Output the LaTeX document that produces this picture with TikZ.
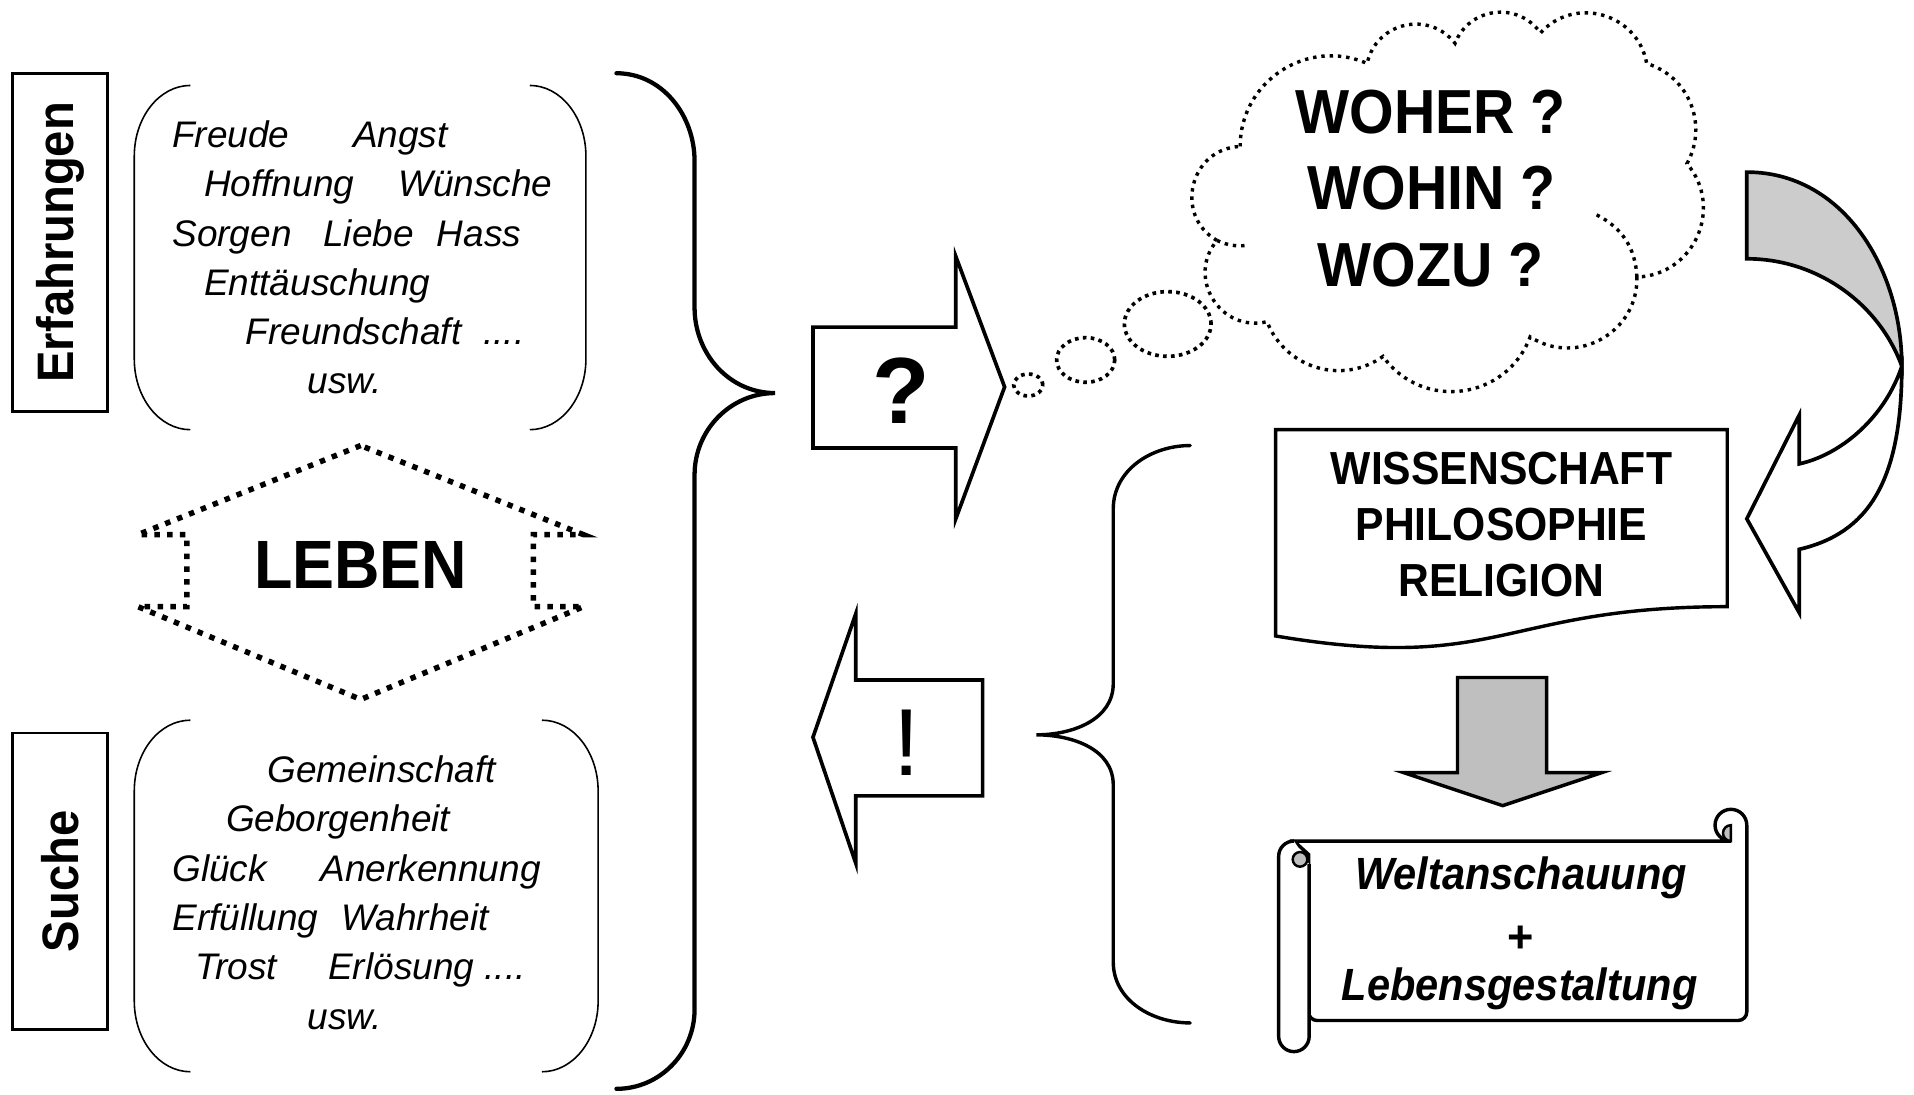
\documentclass[tikz,border=0pt]{standalone}
\usepackage{fontspec}
\setmainfont{Liberation Sans}
\newfontfamily\narrowsans[FakeStretch=0.92]{Liberation Sans}
\usetikzlibrary{shapes.geometric}

\tikzset{
  wordlist/.style={anchor=base west, inner sep=0pt, font=\itshape\fontsize{30.3}{36}\selectfont},
  sidelabel/.style={draw, line width=2.2pt, rotate=90, minimum height=78pt, inner sep=0pt,
                    font=\narrowsans\bfseries\fontsize{42}{48}\selectfont},
  paren/.style={line width=1.3pt},
  bigtitle/.style={anchor=base, inner sep=0pt, font=\narrowsans\bfseries\fontsize{56}{60}\selectfont},
  question/.style={anchor=base, inner sep=0pt, font=\narrowsans\bfseries\fontsize{51}{60}\selectfont},
  science/.style={anchor=base, inner sep=0pt, font=\narrowsans\bfseries\fontsize{38}{44}\selectfont},
  scrolltext/.style={anchor=base, inner sep=0pt, font=\narrowsans\bfseries\itshape\fontsize{37}{44}\selectfont},
  dotline/.style={line width=4.5pt, dash pattern=on 4.5pt off 6pt},
  cloudline/.style={line width=2.8pt, dash pattern=on 2.8pt off 4pt},
  bubble/.style={ellipse, draw, inner sep=0pt, line width=3pt, dash pattern=on 3pt off 3.5pt},
  blockarrow/.style={line width=3pt, line join=miter},
  brace/.style={line width=3.5pt, line cap=round},
  scrollline/.style={line width=2.8pt},
}

\begin{document}
\begin{tikzpicture}[x=1pt, y=1pt]
\useasboundingbox (0,0) rectangle (1568,-897);

\node[sidelabel, minimum width=277pt] (erfahrungen) at (49.25,-198.5) {Erfahrungen};
\node[sidelabel, minimum width=243pt] (suche) at (49.25,-722) {Suche};

\draw[paren] (156,-70) arc[start angle=90, end angle=180, x radius=46pt, y radius=58pt] -- (110,-294) arc[start angle=180, end angle=270, x radius=46pt, y radius=58pt];
\draw[paren] (434,-70) arc[start angle=90, end angle=0, x radius=46pt, y radius=58pt] -- (480,-294) arc[start angle=0, end angle=-90, x radius=46pt, y radius=58pt];
\draw[paren] (156,-590) arc[start angle=90, end angle=180, x radius=46pt, y radius=58pt] -- (110,-820) arc[start angle=180, end angle=270, x radius=46pt, y radius=58pt];
\draw[paren] (444,-590) arc[start angle=90, end angle=0, x radius=46pt, y radius=58pt] -- (490,-820) arc[start angle=0, end angle=-90, x radius=46pt, y radius=58pt];

\node[wordlist] (erf1) at (141,-121) {Freude\hspace{52pt}Angst};
\node[wordlist] (erf2) at (167,-161.3) {Hoffnung\hspace{36pt}Wünsche};
\node[wordlist] (erf3) at (141,-201.6) {Sorgen\hspace{26pt}Liebe\hspace{19pt}Hass};
\node[wordlist] (erf4) at (167,-241.9) {Enttäuschung};
\node[wordlist] (erf5) at (201,-282.2) {Freundschaft\hspace{18pt}....};
\node[wordlist] (erf6) at (252,-322.5) {usw.};

\node[wordlist] (such1) at (219,-641) {Gemeinschaft};
\node[wordlist] (such2) at (185,-681.4) {Geborgenheit};
\node[wordlist] (such3) at (141,-721.8) {Glück\hspace{44pt}Anerkennung};
\node[wordlist] (such4) at (141,-762.2) {Erfüllung\hspace{19pt}Wahrheit};
\node[wordlist] (such5) at (160,-802.6) {Trost\hspace{42pt}Erlösung ....};
\node[wordlist] (such6) at (252,-843) {usw.};

\draw[dotline] (295.5,-365) -- (113,-438) -- (153,-438) -- (153,-497) -- (113,-497) -- (295.5,-573)
  -- (478,-497) -- (437,-497) -- (437,-438) -- (478,-438) -- cycle;
\node[bigtitle] (leben) at (295.5,-482) {LEBEN};

\draw[brace] (505,-60) to[out=0,in=90] (569,-132) -- (569,-252) to[out=-90,in=180] (635,-322)
  to[out=180,in=90] (569,-389) -- (569,-827) to[out=-90,in=0] (505,-892);

\draw[blockarrow] (666,-268) -- (783,-268) -- (783,-210) -- (823,-317) -- (783,-425) -- (783,-367) -- (666,-367) -- cycle;
\node[anchor=base, inner sep=0pt, font=\bfseries\fontsize{77}{80}\selectfont] (frage) at (738,-347) {?};

\draw[blockarrow] (805,-557) -- (701,-557) -- (701,-503) -- (666,-604) -- (701,-707) -- (701,-652) -- (805,-652) -- cycle;
\node[anchor=base, inner sep=0pt, font=\fontsize{78}{80}\selectfont] (ausruf) at (742.7,-635) {!};

\node[bubble, minimum width=24pt, minimum height=18pt] (bubble1) at (842.4,-315.4) {};
\node[bubble, minimum width=47.6pt, minimum height=36.6pt] (bubble2) at (889.4,-294.9) {};
\node[bubble, minimum width=71pt, minimum height=53pt] (bubble3) at (956.6,-265.4) {};

\draw[cloudline] (1016,-120) to[bend left=57,looseness=1.1] (1120,-52)
  to[bend left=65,looseness=1.2] (1192,-35.5)
  to[bend left=62,looseness=1.16] (1262,-27)
  to[bend left=64,looseness=1.18] (1349,-52)
  to[bend left=51,looseness=1.05] (1382,-134)
  to[bend left=64,looseness=1.19] (1341,-227)
  to[bend left=62,looseness=1.16] (1253.5,-276)
  to[bend left=62,looseness=1.16] (1133,-292)
  to[bend left=52,looseness=1.06] (1038,-263.5)
  to[bend left=72,looseness=1.29] (997,-197)
  to[bend left=74,looseness=1.33] (1016,-120);
\draw[cloudline] (1308,-176) to[bend left=30] (1341,-227);
\draw[cloudline] (997,-197) to[bend right=15] (1022,-201);

\node[question] (woher) at (1172,-109) {WOHER ?};
\node[question] (wohin) at (1173,-172) {WOHIN ?};
\node[question] (wozu) at (1172,-235) {WOZU ?};

\draw[line width=3pt, fill=black!20] (1431,-141) .. controls (1510,-141) and (1558,-220) .. (1558,-300)
  .. controls (1540,-250) and (1490,-212) .. (1431,-212) -- cycle;
\draw[line width=3pt, fill=white, line join=miter] (1558,-300) .. controls (1545,-340) and (1510,-372) .. (1474,-380)
  -- (1474,-340) -- (1431,-425) -- (1474,-502) -- (1474,-450) .. controls (1530,-437) and (1558,-395) .. cycle;

\draw[line width=2.8pt, fill=white] (1045,-352) -- (1415,-352) -- (1415,-497)
  .. controls (1230,-497) and (1230,-552) .. (1045,-521) -- cycle;
\node[science] (wissenschaft) at (1230,-397) {WISSENSCHAFT};
\node[science] (philosophie) at (1230,-443) {PHILOSOPHIE};
\node[science] (religion) at (1230,-489) {RELIGION};

\draw[line width=2.8pt, fill=black!25] (1194,-555) -- (1267,-555) -- (1267,-633) -- (1312,-633) -- (1231,-660)
  -- (1150,-633) -- (1194,-633) -- cycle;

\draw[scrollline, fill=white] (1060,-689) -- (1418,-689) arc[start angle=270, end angle=0, radius=13pt]
  [rounded corners=7pt] -- (1431,-836) -- (1072,-836) [sharp corners] -- (1072,-700) -- cycle;
\draw[scrollline, fill=white] (1060,-689) arc[start angle=90, end angle=180, radius=12.5pt] -- (1047.5,-849)
  arc[start angle=180, end angle=360, radius=12.5pt] -- (1072.5,-708);
\draw[line width=2pt, fill=black!25] (1065,-704) circle[radius=6pt];
\draw[line width=2pt, fill=black!25] (1418,-676) arc[start angle=90, end angle=270, radius=6.5pt] -- cycle;
\node[scrolltext] (weltanschauung) at (1246,-729) {Weltanschauung};
\node[anchor=base, inner sep=0pt, font=\bfseries\fontsize{37}{44}\selectfont] (plus) at (1246,-780) {+};
\node[scrolltext] (lebensgestaltung) at (1245,-820) {Lebensgestaltung};

\draw[brace, line width=2.8pt] (975,-365) to[out=180,in=90] (912,-417) -- (912,-560) to[out=-90,in=0] (849,-602)
  to[out=0,in=90] (912,-643) -- (912,-788) to[out=-90,in=180] (975,-838);
\end{tikzpicture}
\end{document}
